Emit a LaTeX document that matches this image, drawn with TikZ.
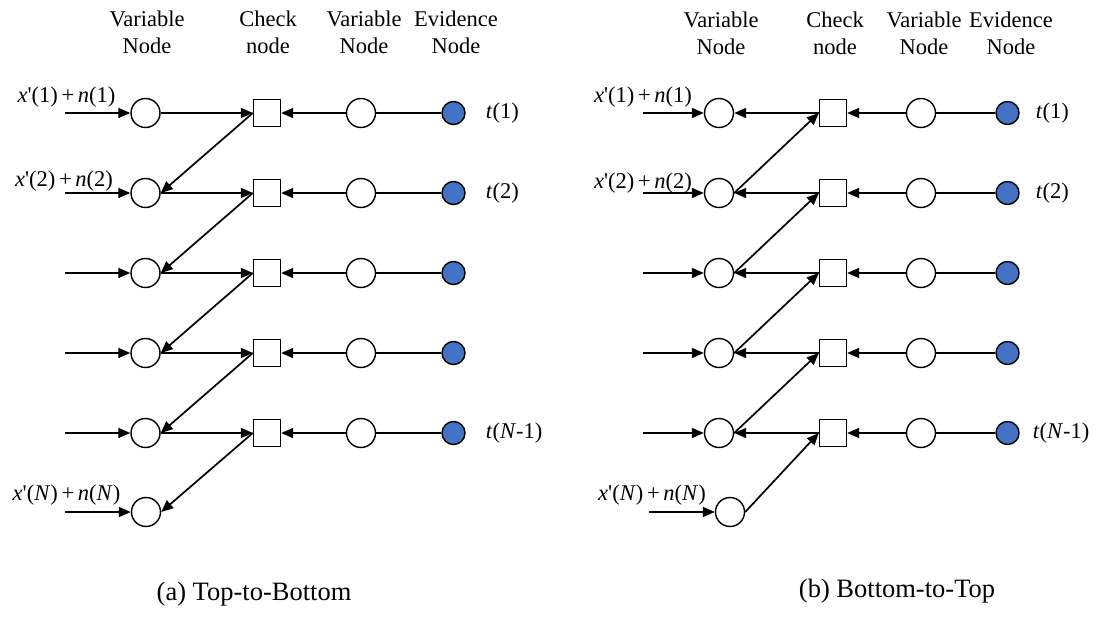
\documentclass[tikz,border=0pt]{standalone}
\usepackage{fontspec}
\setmainfont{Liberation Serif}
\usetikzlibrary{arrows.meta,positioning}
\definecolor{evblue}{HTML}{4472C4}
\tikzset{
  varnode/.style={circle,draw,line width=1.4pt,minimum size=29pt,inner sep=0pt},
  chknode/.style={rectangle,draw,line width=1.4pt,minimum size=27pt,inner sep=0pt},
  evnode/.style={circle,draw,line width=1.4pt,fill=evblue,minimum size=23pt,inner sep=0pt},
  msg/.style={-{Triangle[length=12pt,width=10pt]}},
  hdr/.style={align=center,font=\fontsize{22.5}{27}\selectfont},
  lbl/.style={font=\fontsize{22.5}{26}\selectfont,inner sep=0pt},
  capt/.style={font=\fontsize{26.5}{30}\selectfont}
}
\newcommand{\insig}[1]{\textit{x}\textquotesingle(#1)\,+\,\textit{n}(#1)}

\begin{document}
\begin{tikzpicture}[x=1pt,y=-1pt,line width=1.7pt]
\useasboundingbox (0,0) rectangle (1118,617);

% (a) top to bottom
\node[hdr] (ha1) at (147,32) {Variable\\Node};
\node[hdr] (ha2) at (268,32) {Check\\node};
\node[hdr] (ha3) at (364,32) {Variable\\Node};
\node[hdr] (ha4) at (456,32) {Evidence\\Node};

\foreach \r/\y in {1/113,2/193,3/273,4/353,5/433}
{
  \coordinate (ain\r) at (65,\y);
  \node[varnode] (av\r) at (145.5,\y) {};
  \node[chknode] (ac\r) at (267,\y) {};
  \node[varnode] (aw\r) at (361,\y) {};
  \node[evnode] (ae\r) at (453.5,\y) {};
}
\coordinate (ain6) at (65,512);
\node[varnode] (av6) at (146,512) {};

\foreach \r in {1,...,6}
{
  \draw[msg] (ain\r) -- (av\r);
}
\foreach \r in {1,...,5}
{
  \draw[msg] (av\r.east) -- (ac\r.west);
  \draw[msg] (aw\r.west) -- (ac\r.east);
  \draw (ae\r.west) -- (aw\r.east);
}
\foreach \r/\s in {1/2,2/3,3/4,4/5,5/6}
{
  \draw[msg] (ac\r.west) -- (av\s.east);
}

\node[lbl] (xa1) at (66.5,97) {\insig{1}};
\node[lbl] (xa2) at (64,181) {\insig{2}};
\node[lbl] (xa6) at (66.5,495) {\insig{\textit{N}}};
\node[lbl,anchor=west] (ta1) at (485,113) {\textit{t}(1)};
\node[lbl,anchor=west] (ta2) at (485,193) {\textit{t}(2)};
\node[lbl,anchor=west] (ta5) at (485,433) {\textit{t}(\textit{N}-1)};

\node[capt] (capa) at (254,594) {(a) Top-to-Bottom};

% (b) bottom to top
\node[hdr] (hb1) at (721,33) {Variable\\Node};
\node[hdr] (hb2) at (835,33) {Check\\node};
\node[hdr] (hb3) at (924,33) {Variable\\Node};
\node[hdr] (hb4) at (1011,33) {Evidence\\Node};

\foreach \r/\y in {1/113,2/193,3/273,4/353,5/433}
{
  \coordinate (bin\r) at (643,\y);
  \node[varnode] (bv\r) at (719,\y) {};
  \node[chknode] (bc\r) at (833,\y) {};
  \node[varnode] (bw\r) at (921,\y) {};
  \node[evnode] (be\r) at (1007.5,\y) {};
}
\coordinate (bin6) at (649,512);
\node[varnode] (bv6) at (730,512) {};

\foreach \r in {1,...,6}
{
  \draw[msg] (bin\r) -- (bv\r);
}
\foreach \r in {1,...,5}
{
  \draw[msg] (bc\r.west) -- (bv\r.east);
  \draw[msg] (bw\r.west) -- (bc\r.east);
  \draw (be\r.west) -- (bw\r.east);
}
\foreach \r/\s in {1/2,2/3,3/4,4/5,5/6}
{
  \draw[msg] (bv\s.east) -- (bc\r.west);
}

\node[lbl] (xb1) at (643,97) {\insig{1}};
\node[lbl] (xb2) at (643,183) {\insig{2}};
\node[lbl] (xb6) at (652,495) {\insig{\textit{N}}};
\node[lbl,anchor=west] (tb1) at (1035,113) {\textit{t}(1)};
\node[lbl,anchor=west] (tb2) at (1035,193) {\textit{t}(2)};
\node[lbl,anchor=west] (tb5) at (1032,433) {\textit{t}(\textit{N}-1)};

\node[capt] (capb) at (897,591) {(b) Bottom-to-Top};
\end{tikzpicture}
\end{document}
